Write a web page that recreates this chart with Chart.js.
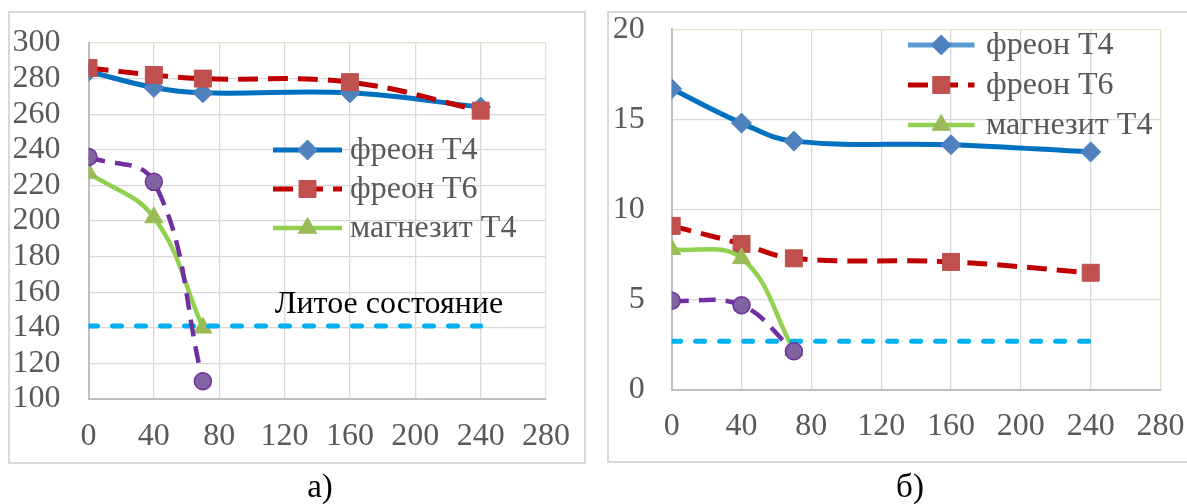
<!DOCTYPE html>
<html>
<head>
<meta charset="utf-8">
<script src="https://cdn.jsdelivr.net/npm/chart.js@4.4.1/dist/chart.umd.min.js"></script>
<style>
html, body { margin: 0; padding: 0; background: #fff; overflow: hidden; }
body { width: 1187px; height: 504px; position: relative; }
.frame { position: absolute; border: 2px solid #D9D9D9; box-sizing: border-box; }
canvas { position: absolute; top: 0; }
.cap { position: absolute; font: 33px 'Liberation Serif', serif; line-height: 33px; color: #000; transform: translateX(-50%); }
</style>
</head>
<body>
<div class="frame" style="left:8px;top:11px;width:578px;height:453px"></div>
<div class="frame" style="left:607px;top:11px;width:640px;height:452px"></div>
<canvas id="chartA" width="595" height="504" style="left:0"></canvas>
<canvas id="chartB" width="592" height="504" style="left:595px"></canvas>
<div class="cap" style="left:320px;top:470px">а)</div>
<div class="cap" style="left:910px;top:470px">б)</div>

<script>
// aging time, h
const hoursFreon = [0, 40, 70, 160, 240];
const hoursShort = [0, 40, 70];
const hoursCast = [0, 240];

// chart a)
const freonT4_a = [284, 275, 272, 272, 264];
const freonT6_a = [286, 282, 280, 278, 262];
const magnesiteT4_a = [227, 202, 140];
const fourth_a = [236, 222, 110];
const cast_a = [141, 141];

// chart б)
const freonT4_b = [16.7, 14.8, 13.8, 13.6, 13.2];
const freonT6_b = [9.1, 8.1, 7.3, 7.1, 6.5];
const magnesiteT4_b = [7.8, 7.3, 2.2];
const fourth_b = [4.95, 4.7, 2.15];
const cast_b = [2.7, 2.7];

const legendNames = ['фреон Т4', 'фреон Т6', 'магнезит Т4'];
const xTicks = [0, 40, 80, 120, 160, 200, 240, 280];

const FONT = "'Liberation Serif', 'Times New Roman', serif";
const TICK_COLOR = '#595959';

function pts(xs, ys) {
    return xs.map((x, i) => ({ x: x, y: ys[i] }));
}

function makeDatasets(t4, t6, mg, fourth, cast) {
    return [
        {
            label: legendNames[0], data: pts(hoursFreon, t4), order: 5,
            borderColor: '#0070C0', borderWidth: 5, tension: 0.4,
            pointStyle: 'rectRot', pointRadius: 10,
            pointBackgroundColor: '#4F81BD', pointBorderColor: '#4F81BD', pointBorderWidth: 1
        },
        {
            label: legendNames[1], data: pts(hoursFreon, t6), order: 4,
            borderColor: '#C00000', borderWidth: 5, borderDash: [20, 10], tension: 0.4,
            pointStyle: 'rect', pointRadius: 12,
            pointBackgroundColor: '#C0504D', pointBorderColor: '#C0504D', pointBorderWidth: 1
        },
        {
            label: legendNames[2], data: pts(hoursShort, mg), order: 3,
            borderColor: '#92D050', borderWidth: 4.5, tension: 0.4,
            pointStyle: 'triangle', pointRadius: 10.5,
            pointBackgroundColor: '#9BBB59', pointBorderColor: '#9BBB59', pointBorderWidth: 1
        },
        {
            label: 'cast', data: pts(hoursCast, cast), order: 2,
            borderColor: '#00B0F0', borderWidth: 5, borderDash: [9, 15], borderCapStyle: 'round',
            pointRadius: 0
        },
        {
            label: '', data: pts(hoursShort, fourth), order: 1,
            borderColor: '#7030A0', borderWidth: 4.5, borderDash: [17, 10], tension: 0.4,
            pointStyle: 'circle', pointRadius: 8.5,
            pointBackgroundColor: '#8064A2', pointBorderColor: '#7030A0', pointBorderWidth: 1.5
        }
    ];
}

// legend drawn as line + marker, like the spreadsheet one
const lineLegend = {
    id: 'lineLegend',
    afterDraw(chart) {
        const o = chart.options.plugins.lineLegend;
        if (!o) return;
        const ctx = chart.ctx;
        ctx.save();
        o.rows.forEach((y, i) => {
            const ds = chart.data.datasets[i];
            ctx.strokeStyle = (o.lineColors && o.lineColors[i]) || ds.borderColor;
            ctx.lineWidth = ds.borderWidth;
            ctx.setLineDash(ds.borderDash || []);
            ctx.lineCap = 'butt';
            ctx.beginPath();
            ctx.moveTo(o.x0, y);
            ctx.lineTo(o.x1, y);
            ctx.stroke();
            ctx.setLineDash([]);
            ctx.fillStyle = ds.pointBackgroundColor;
            ctx.strokeStyle = ds.pointBorderColor;
            ctx.lineWidth = ds.pointBorderWidth;
            Chart.helpers.drawPoint(ctx, {
                pointStyle: ds.pointStyle, radius: ds.pointRadius, rotation: 0, borderWidth: ds.pointBorderWidth
            }, (o.x0 + o.x1) / 2, y);
            ctx.fillStyle = TICK_COLOR;
            ctx.font = o.font;
            ctx.textAlign = 'left';
            ctx.textBaseline = 'middle';
            ctx.fillText(ds.label, o.textX, y + 1);
        });
        if (o.note) {
            const n = o.note;
            ctx.fillStyle = '#000';
            ctx.font = n.font;
            ctx.textAlign = 'left';
            ctx.textBaseline = 'middle';
            ctx.fillText(n.text, chart.scales.x.getPixelForValue(n.x), chart.scales.y.getPixelForValue(n.y));
        }
        ctx.restore();
    }
};

function makeChart(id, datasets, y, layout, legend) {
    new Chart(document.getElementById(id).getContext('2d'), {
        type: 'line',
        data: { datasets: datasets },
        options: {
            responsive: false,
            animation: false,
            layout: { padding: { left: 0, top: layout.top, right: layout.right, bottom: 0 } },
            plugins: { legend: { display: false }, tooltip: { enabled: false }, lineLegend: legend },
            scales: {
                x: {
                    type: 'linear', min: 0, max: 280,
                    afterBuildTicks: s => { s.ticks = xTicks.map(v => ({ value: v })); },
                    afterFit: s => { s.height = layout.xh; s.paddingLeft = 0; s.paddingRight = 0; },
                    grid: {
                        drawTicks: false, lineWidth: 1.3,
                        color: c => c.tick && c.tick.value === 280 ? '#E3E2CC' : '#D9D9D9'
                    },
                    border: { color: '#BFBFBF', width: 2 },
                    ticks: { color: TICK_COLOR, padding: layout.xpad, maxRotation: 0, autoSkip: false, font: { family: FONT, size: 32 } }
                },
                y: {
                    min: y.min, max: y.max,
                    afterFit: s => { s.width = layout.yw; s.paddingTop = 0; s.paddingBottom = 0; },
                    grid: {
                        drawTicks: false, lineWidth: 1.3,
                        color: c => c.tick && c.tick.value === y.max ? '#E3E2CC' : '#D9D9D9'
                    },
                    border: { color: '#BFBFBF', width: 2 },
                    ticks: { color: TICK_COLOR, padding: layout.ypad, stepSize: y.step, autoSkip: false, font: { family: FONT, size: 32 } }
                }
            }
        },
        plugins: [lineLegend]
    });
}

makeChart('chartA',
    makeDatasets(freonT4_a, freonT6_a, magnesiteT4_a, fourth_a, cast_a),
    { min: 100, max: 300, step: 20 },
    { top: 43, right: 49, xh: 105, yw: 88.5, xpad: 18, ypad: 28 },
    {
        x0: 273, x1: 342, textX: 350, rows: [150, 189, 228], font: '32px ' + FONT,
        note: { text: 'Литое состояние', x: 114, y: 153, font: '32px ' + FONT }
    });

makeChart('chartB',
    makeDatasets(freonT4_b, freonT6_b, magnesiteT4_b, fourth_b, cast_b),
    { min: 0, max: 20, step: 5 },
    { top: 29.3, right: 26.5, xh: 114, yw: 76.7, xpad: 17, ypad: 27 },
    {
        x0: 313, x1: 379.5, textX: 391, rows: [45, 85, 125], font: '32px ' + FONT,
        lineColors: ['#5B9BD5', null, null]
    });
</script>
</body>
</html>
